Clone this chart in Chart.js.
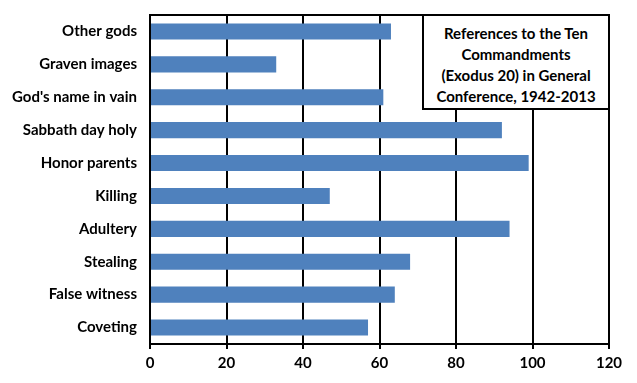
<!DOCTYPE html>
<html lang="en">
<head>
    <meta charset="UTF-8">
    <title>Ten Commandments references</title>
    <script src="https://cdn.jsdelivr.net/npm/chart.js"></script>
    <style>
        html, body { margin: 0; padding: 0; background: #fff; }
        .wrap { position: relative; width: 637px; height: 383px; }
        .note {
            position: absolute;
            left: 422px; top: 14px;
            width: 184px; height: 85px;
            border: 2px solid #000;
            background: #fff;
            font: bold 15px Lato, sans-serif;
            line-height: 21px;
            text-align: center;
            padding-top: 7px;
            box-sizing: content-box;
        }
    </style>
</head>
<body>
    <div class="wrap">
        <canvas id="chart" width="637" height="383"></canvas>
        <div class="note">References to the Ten<br>Commandments<br>(Exodus 20) in General<br>Conference, 1942-2013</div>
    </div>

    <script>
        // commandments, top to bottom
        const commandments = ['Other gods', 'Graven images', "God's name in vain", 'Sabbath day holy',
            'Honor parents', 'Killing', 'Adultery', 'Stealing', 'False witness', 'Coveting'];
        const references = [63, 33, 61, 92, 99, 47, 94, 68, 64, 57];
        const xTicks = [0, 20, 40, 60, 80, 100, 120];

        // top edge of the plot area
        const plotBorder = {
            id: 'plotBorder',
            afterDraw(chart) {
                const a = chart.chartArea, c = chart.ctx;
                c.save();
                c.strokeStyle = '#000';
                c.lineWidth = 2;
                c.beginPath();
                c.moveTo(a.left, a.top);
                c.lineTo(a.right, a.top);
                c.stroke();
                c.restore();
            }
        };

        const labelFont = { family: 'Lato', size: 15, weight: 'bold' };

        new Chart(document.getElementById('chart'), {
            type: 'bar',
            data: {
                labels: commandments,
                datasets: [{
                    data: references,
                    backgroundColor: '#4F81BD',
                    categoryPercentage: 1,
                    barPercentage: 0.49
                }]
            },
            options: {
                indexAxis: 'y',
                responsive: false,
                animation: false,
                layout: { padding: { top: 15, right: 28, left: 0, bottom: 0 } },
                plugins: { legend: { display: false }, tooltip: { enabled: false } },
                scales: {
                    x: {
                        min: 0, max: 120,
                        afterBuildTicks(scale) { scale.ticks = xTicks.map(v => ({ value: v })); },
                        afterFit(scale) { scale.height = 39; },
                        grid: { color: '#000', lineWidth: 2, tickLength: 5 },
                        border: { color: '#000', width: 2 },
                        ticks: { color: '#000', font: labelFont, padding: 5 }
                    },
                    y: {
                        afterFit(scale) { scale.width = 150; },
                        grid: { display: false },
                        border: { color: '#000', width: 2 },
                        ticks: { color: '#000', font: labelFont, padding: 5 }
                    }
                }
            },
            plugins: [plotBorder]
        });
    </script>
</body>
</html>
